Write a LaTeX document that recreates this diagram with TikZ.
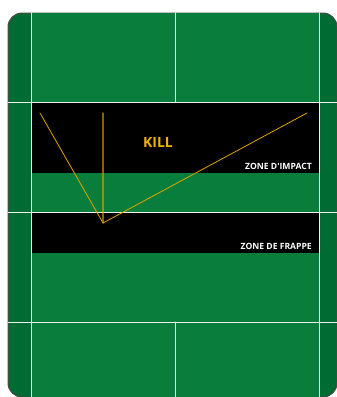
\documentclass[tikz,border=0pt]{standalone}
\usepackage{fontspec}
\newfontfamily\zonefont{Open Sans}
\definecolor{court}{HTML}{087D3C}
\definecolor{courtdark}{HTML}{006B32}
\definecolor{killcol}{HTML}{F0B400}
\definecolor{shotcol}{HTML}{E0A400}
\definecolor{rim}{HTML}{4A4A4A}
\begin{document}
\begin{tikzpicture}[
			x=1pt, y=-1pt,
			line cap=round, line join=round,
			courtline/.style={draw=white!88!gray, line width=1pt},
			zone/.style={fill=black},
			shot/.style={draw=shotcol, line width=0.8pt},
			zonelabel/.style={text=white, font=\zonefont\bfseries\fontsize{8.6}{9}\selectfont, anchor=base east, inner sep=0pt}
			]
			\useasboundingbox (0,0) rectangle (337,397);
			
			\filldraw[fill=courtdark, draw=rim, line width=1pt, rounded corners=14pt] (8,13) rectangle (337,397);
			\fill[court] (31,13) rectangle (319,397);
			
			\fill[zone] (31,103) rectangle (319,173);
			\fill[zone] (31,213) rectangle (319,253);
			
			\draw[courtline] (31,13)--(31,397);
			\draw[courtline] (319,13)--(319,397);
			\draw[courtline] (175,13)--(175,102);
			\draw[courtline] (175,322)--(175,397);
			\draw[courtline] (8,102)--(337,102);
			\draw[courtline] (8,212)--(337,212);
			\draw[courtline] (8,322)--(337,322);
			
			\coordinate (apex) at (103,223);
			\coordinate (s1) at (40,113);
			\coordinate (s2) at (103,113);
			\coordinate (s3) at (307,113);
			\draw[shot] (s1)--(apex)--(s3);
			\draw[shot, line width=1.3pt, draw opacity=0.6] (s2)--(apex);
			
			\node[text=killcol, font=\zonefont\bfseries\fontsize{14}{16}\selectfont, inner sep=0pt] (kill) at (158,142) {KILL};
			\node[zonelabel] (impact) at (312,169) {ZONE D'IMPACT};
			\node[zonelabel] (frappe) at (312,249) {ZONE DE FRAPPE};
		\end{tikzpicture}
\end{document}
